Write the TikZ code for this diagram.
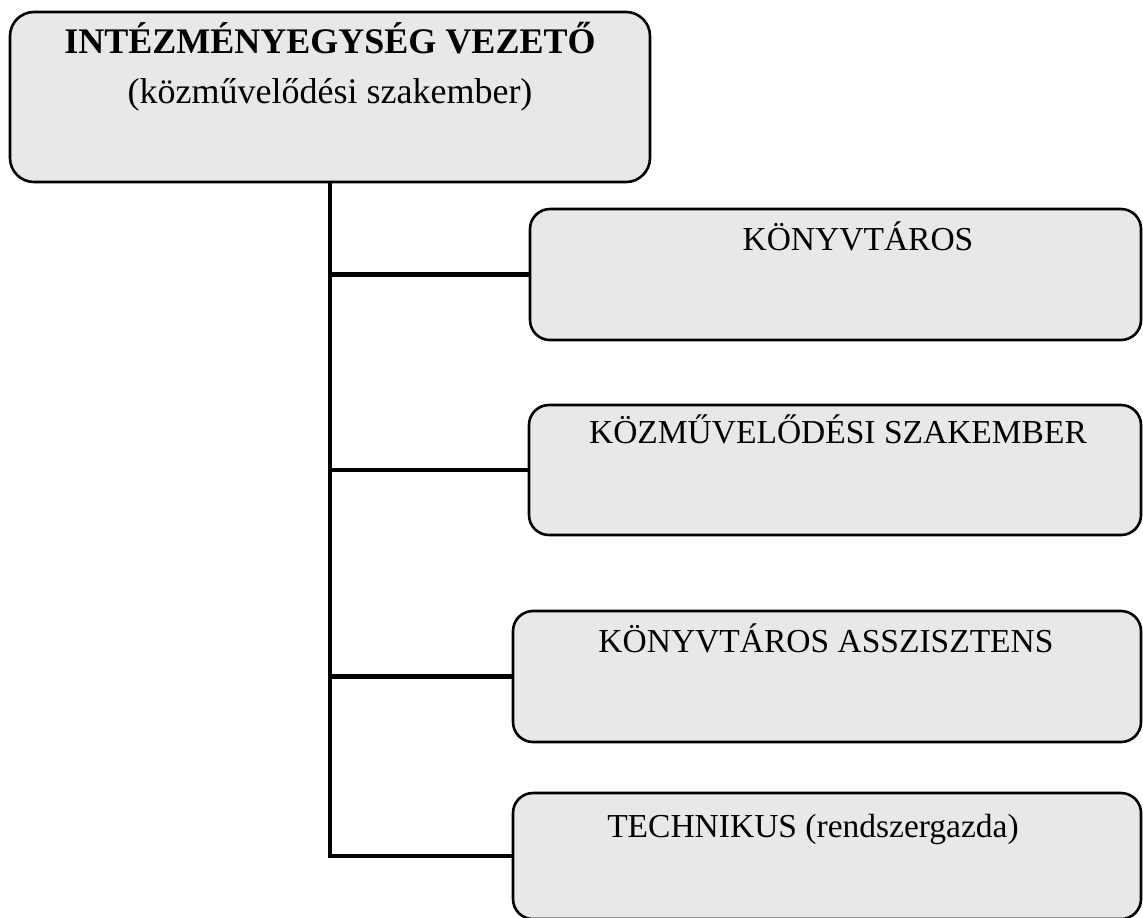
\documentclass[tikz,border=0pt]{standalone}
\usepackage{fontspec}
\setmainfont{Liberation Serif}
\usepackage{xcolor}
\usepackage{tikz}
\usetikzlibrary{positioning, calc}
\definecolor{boxgray}{RGB}{232,232,232}

\begin{document}
\begin{tikzpicture}[x=0.5pt, y=-0.5pt,
  unitbox/.style={draw, line width=1.3pt, rounded corners=10pt, fill=boxgray, inner sep=0pt},
  headtext/.style={font=\fontsize{18pt}{20pt}\selectfont, anchor=base, inner sep=0pt},
  unittext/.style={font=\fontsize{16.75pt}{19pt}\selectfont, anchor=base, inner sep=0pt},
  link/.style={line width=2.4pt}]
\useasboundingbox (0,0) rectangle (1143,917);
% boxes
\node[unitbox, rounded corners=12pt, minimum width=320pt, minimum height=85pt] (head) at (330,97) {};
\node[unitbox, minimum width=305.5pt, minimum height=65.5pt] (lib) at (835.5,274.5) {};
\node[unitbox, minimum width=306pt, minimum height=65pt] (cult) at (835,470) {};
\node[unitbox, minimum width=314pt, minimum height=65.5pt] (asst) at (827,676.5) {};
\node[unitbox, minimum width=314pt, minimum height=63pt] (tech) at (827,856) {};
% texts
\node[headtext] (headtitle) at (330,53) {\bfseries INTÉZMÉNYEGYSÉG VEZETŐ};
\node[headtext] (headsub) at (330,103) {(közművelődési szakember)};
\node[unittext] (libtext) at (858,250) {KÖNYVTÁROS};
\node[unittext] (culttext) at (838,443) {KÖZMŰVELŐDÉSI SZAKEMBER};
\node[unittext] (assttext) at (826,652) {KÖNYVTÁROS ASSZISZTENS};
\node[unittext] (techtext) at (813,837) {TECHNIKUS (rendszergazda)};
% connectors
\draw[link] (head.south) |- (tech.west);
\draw[link] (head.south |- lib.west) -- (lib.west);
\draw[link] (head.south |- cult.west) -- (cult.west);
\draw[link] (head.south |- asst.west) -- (asst.west);
\end{tikzpicture}
\end{document}
